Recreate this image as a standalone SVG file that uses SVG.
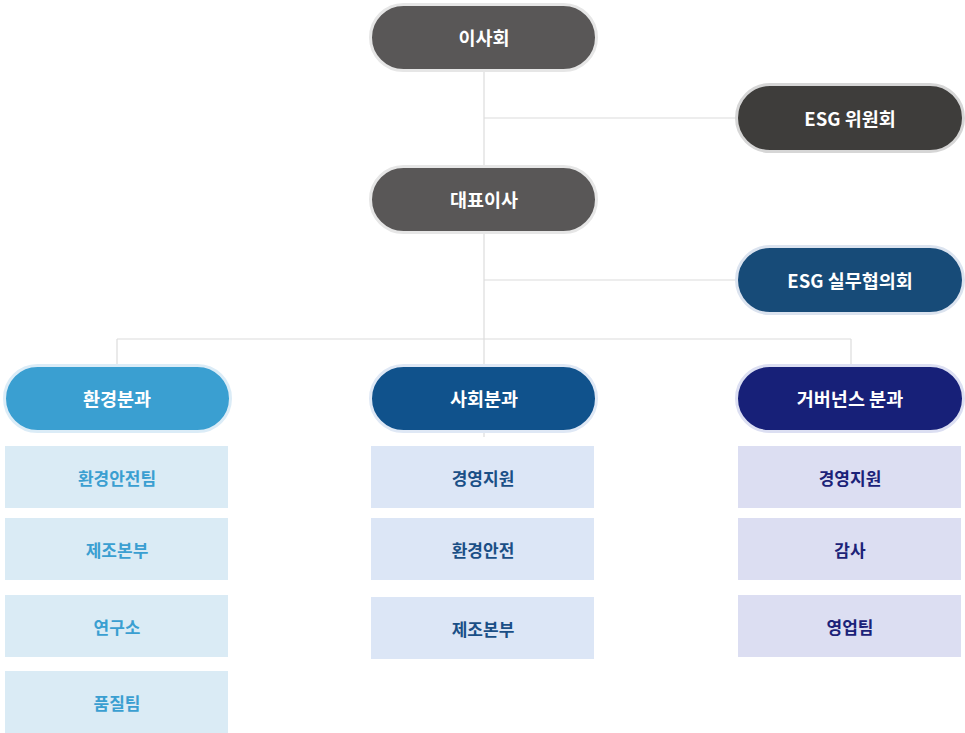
<svg xmlns="http://www.w3.org/2000/svg" width="965" height="733" viewBox="0 0 965 733">
<style>
text{font-family:"Noto Sans CJK KR","Noto Sans",sans-serif;font-weight:700;text-anchor:middle;dominant-baseline:central}
.pill text{fill:#fff;font-size:18.5px}
.box text{font-size:17px}
.ln{stroke:#dcdcdc;stroke-width:1.2;fill:none}
.env rect{fill:#daebf5}.env text{fill:#3a9fd1}
.soc rect{fill:#dce6f6}.soc text{fill:#1a4f86}
.gov rect{fill:#dcdef2}.gov text{fill:#1b2278}
</style>
<rect width="965" height="733" fill="#fff"/>
<g id="connectors">
<path class="ln" d="M484 72V437M484 118H737M484 280H737M117 339H851M117 339V364M851 339V364"/>
</g>
<g id="board" class="pill"><rect x="370.5" y="4.5" width="226" height="66" rx="33" fill="#595757" stroke="#e6e6e6" stroke-width="3"/><text x="484" y="37">이사회</text></g>
<g id="esg-committee" class="pill"><rect x="736.5" y="84.5" width="227" height="67" rx="33.5" fill="#3e3d3b" stroke="#d6d6d6" stroke-width="3"/><text x="850" y="118">ESG 위원회</text></g>
<g id="ceo" class="pill"><rect x="370.5" y="166.5" width="226" height="66" rx="33" fill="#595757" stroke="#e6e6e6" stroke-width="3"/><text x="484" y="199">대표이사</text></g>
<g id="esg-council" class="pill"><rect x="736.5" y="246.5" width="227" height="67" rx="33.5" fill="#174b78" stroke="#dbe3ef" stroke-width="3"/><text x="850" y="280">ESG 실무협의회</text></g>
<g id="env-div" class="pill"><rect x="4.5" y="365.5" width="226" height="66" rx="33" fill="#3a9fd1" stroke="#dbecf7" stroke-width="3"/><text x="117" y="398">환경분과</text></g>
<g id="soc-div" class="pill"><rect x="370.5" y="365.5" width="226" height="66" rx="33" fill="#10528c" stroke="#dfe8f5" stroke-width="3"/><text x="484" y="398">사회분과</text></g>
<g id="gov-div" class="pill"><rect x="736.5" y="365.5" width="227" height="66" rx="33" fill="#172078" stroke="#dcdff2" stroke-width="3"/><text x="850" y="398">거버넌스 분과</text></g>
<g id="env-1" class="box env"><rect x="5" y="446" width="223" height="62"/><text x="117" y="477">환경안전팀</text></g>
<g id="env-2" class="box env"><rect x="5" y="518" width="223" height="62"/><text x="117" y="549">제조본부</text></g>
<g id="env-3" class="box env"><rect x="5" y="595" width="223" height="62"/><text x="117" y="626">연구소</text></g>
<g id="env-4" class="box env"><rect x="5" y="671" width="223" height="62"/><text x="117" y="702">품질팀</text></g>
<g id="soc-1" class="box soc"><rect x="371" y="446" width="223" height="62"/><text x="483" y="477">경영지원</text></g>
<g id="soc-2" class="box soc"><rect x="371" y="518" width="223" height="62"/><text x="483" y="549">환경안전</text></g>
<g id="soc-3" class="box soc"><rect x="371" y="597" width="223" height="62"/><text x="483" y="628">제조본부</text></g>
<g id="gov-1" class="box gov"><rect x="738" y="446" width="223" height="62"/><text x="850" y="477">경영지원</text></g>
<g id="gov-2" class="box gov"><rect x="738" y="518" width="223" height="62"/><text x="850" y="549">감사</text></g>
<g id="gov-3" class="box gov"><rect x="738" y="595" width="223" height="62"/><text x="850" y="626">영업팀</text></g>
</svg>
